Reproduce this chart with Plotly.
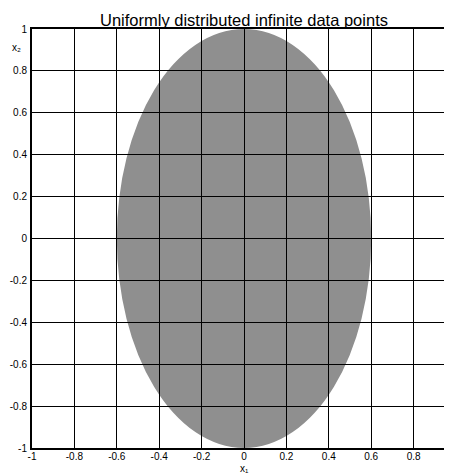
import plotly.graph_objects as go

# Data
ellipse_center = [0.0, 0.0]
ellipse_radii = [0.6, 1.0]
x_ticks = [-1, -0.8, -0.6, -0.4, -0.2, 0, 0.2, 0.4, 0.6, 0.8]
x_tick_labels = ["-1", "-0.8", "-0.6", "-0.4", "-0.2", "0", "0.2", "0.4", "0.6", "0.8"]
y_ticks = [-1, -0.8, -0.6, -0.4, -0.2, 0, 0.2, 0.4, 0.6, 0.8, 1]
y_tick_labels = ["-1", "-0.8", "-0.6", "-0.4", "-0.2", "0", "0.2", "0.4", "0.6", "0.8", "1"]
title_text = "Uniformly distributed infinite data points"

FONT = "Liberation Sans, Arial, sans-serif"

fig = go.Figure()
fig.add_trace(go.Scatter(x=[None], y=[None], mode="markers", showlegend=False, hoverinfo="skip"))

fig.add_shape(
    type="circle", xref="x", yref="y",
    x0=ellipse_center[0] - ellipse_radii[0], x1=ellipse_center[0] + ellipse_radii[0],
    y0=ellipse_center[1] - ellipse_radii[1], y1=ellipse_center[1] + ellipse_radii[1],
    fillcolor="#8f8f8f", line=dict(width=0), layer="below",
)

fig.update_layout(
    width=444, height=466,
    margin=dict(l=24, r=0, t=21, b=26, pad=0),
    paper_bgcolor="white", plot_bgcolor="white",
    font=dict(family=FONT, size=10, color="black"),
    showlegend=False,
)

fig.update_xaxes(
    range=[-1, 0.981], tickvals=x_ticks, ticktext=x_tick_labels,
    showgrid=True, gridcolor="black", gridwidth=1, zeroline=False,
    showline=True, linecolor="black", linewidth=2, mirror=True,
    ticks="", ticklabelstandoff=-2, tickfont=dict(size=10, color="black"),
)
fig.update_yaxes(
    range=[-1, 1], tickvals=y_ticks, ticktext=y_tick_labels,
    showgrid=True, gridcolor="black", gridwidth=1, zeroline=False,
    showline=True, linecolor="black", linewidth=2, mirror=False,
    ticks="", ticklabelstandoff=1, tickfont=dict(size=10, color="black"),
)

fig.add_annotation(
    text=title_text, xref="x", x=0, yref="paper", y=1, yanchor="bottom",
    xanchor="center", yshift=-2, showarrow=False,
    font=dict(family=FONT, size=16.5, color="black"),
)
fig.add_annotation(
    text="x\u2082", xref="paper", x=0, xshift=-16, yref="paper", y=1, yshift=-18,
    xanchor="center", yanchor="middle", showarrow=False,
    font=dict(family=FONT, size=10, color="black"),
)
fig.add_annotation(
    text="x\u2081", xref="x", x=0, yref="paper", y=0, yshift=-20,
    xanchor="center", yanchor="middle", showarrow=False,
    font=dict(family=FONT, size=10, color="black"),
)

fig.write_html("out.html")
